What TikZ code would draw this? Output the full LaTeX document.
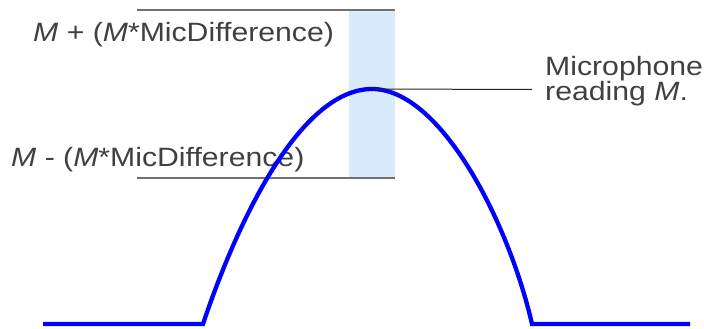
\documentclass[tikz,border=0pt]{standalone}
\usepackage{fontspec}
\setmainfont{Liberation Sans}
\definecolor{txtgray}{HTML}{404040}
\definecolor{linegray}{HTML}{707070}
\definecolor{bandblue}{HTML}{D8EBFC}
\definecolor{curveblue}{HTML}{0000FF}
\newcommand{\widetxt}[1]{\scalebox{1.14}[1]{#1}}
\begin{document}
\begin{tikzpicture}[x=1pt,y=-1pt,
  lbl/.style={inner sep=0pt, text=txtgray, font=\fontsize{26.5}{28}\selectfont, anchor=base west},
  limitline/.style={draw=linegray, line width=1.5pt},
  leader/.style={draw=black!85, line width=1pt},
  signal/.style={draw=curveblue, line width=4.3pt, line join=miter}]
\useasboundingbox (0,0) rectangle (704,329);
% band
\fill[bandblue] (349,10) rectangle (395,178);
% limit lines
\coordinate (topL) at (137,10);
\coordinate (topR) at (395,10);
\coordinate (botL) at (137,178);
\coordinate (botR) at (395,178);
\draw[limitline] (topL) -- (topR);
\draw[limitline] (botL) -- (botR);
% labels
\node[lbl] (upper) at (33,41.7) {\widetxt{\textit{M} + (\textit{M}*MicDifference)}};
\node[lbl] (lower) at (11,166.7) {\widetxt{\textit{M} - (\textit{M}*MicDifference)}};
\node[lbl] (mic1) at (545,76) {\widetxt{Microphone}};
\node[lbl] (mic2) at (545,100) {\widetxt{reading \textit{M}.}};
% signal
\coordinate (s0) at (43,324);
\coordinate (s1) at (203,324);
\coordinate (peak) at (372,89);
\coordinate (s2) at (532,324);
\coordinate (s3) at (690,324);
\draw[signal] (s0) -- (s1)
  .. controls (243,205) and (305,89) .. (peak)
  .. controls (440,89) and (508,220) .. (s2)
  -- (s3);
% leader
\coordinate (leadEnd) at (532,89.5);
\draw[leader] (peak) -- (leadEnd);
\end{tikzpicture}
\end{document}
